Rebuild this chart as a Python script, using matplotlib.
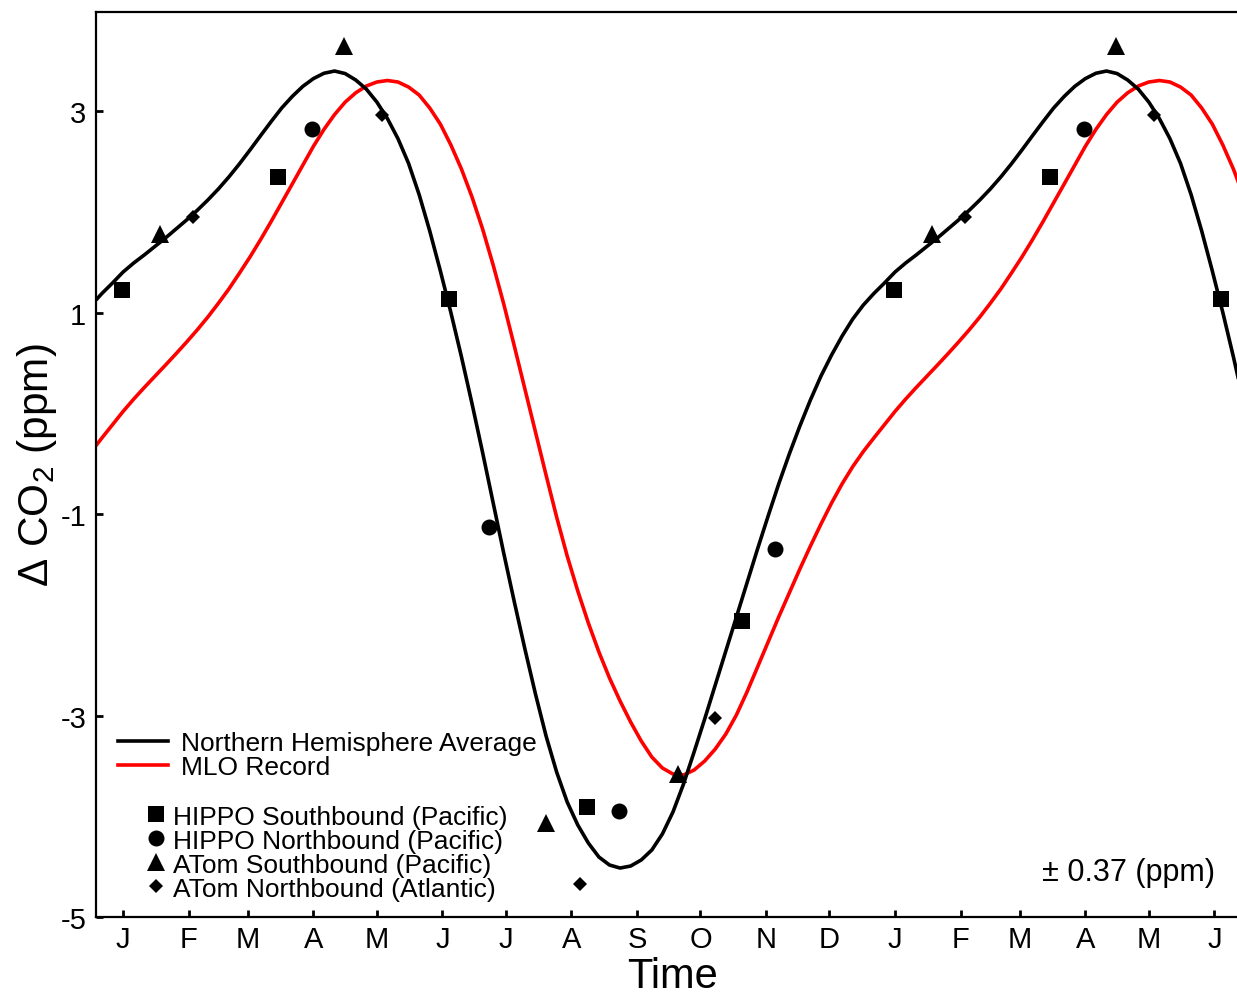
import matplotlib
matplotlib.use("Agg")
import matplotlib.pyplot as plt
from matplotlib.lines import Line2D
import numpy as np

plt.rcParams['font.family'] = ['Liberation Sans', 'DejaVu Sans']
plt.rcParams['mathtext.fontset'] = 'custom'
plt.rcParams['mathtext.rm'] = 'Liberation Sans'
plt.rcParams['mathtext.it'] = 'Liberation Sans:italic'
plt.rcParams['mathtext.bf'] = 'Liberation Sans:bold'

# ---------------- data (one seasonal cycle, day of year) ----------------
period = 365
cycle_day = list(range(-15, 350, 5))

nh_co2 = [1.074, 1.189, 1.293, 1.402, 1.491, 1.571, 1.655, 1.739, 1.829, 1.918,
          2.013, 2.115, 2.225, 2.345, 2.475, 2.613, 2.755, 2.895, 3.030, 3.145,
          3.245, 3.322, 3.375, 3.397, 3.372, 3.308, 3.218, 3.089, 2.925, 2.725,
          2.480, 2.170, 1.810, 1.415, 1.000, 0.560, 0.095, -0.390, -0.890, -1.390,
          -1.873, -2.340, -2.787, -3.203, -3.561, -3.859, -4.087, -4.266, -4.405, -4.484,
          -4.514, -4.494, -4.434, -4.335, -4.176, -3.958, -3.680, -3.362, -3.035, -2.697,
          -2.360, -2.022, -1.685, -1.347, -1.020, -0.702, -0.405, -0.127, 0.132, 0.370,
          0.578, 0.767, 0.935]

mlo_co2 = [-0.380, -0.245, -0.113, 0.018, 0.140, 0.255, 0.366, 0.477, 0.590, 0.706,
           0.826, 0.953, 1.090, 1.233, 1.390, 1.551, 1.723, 1.903, 2.089, 2.276,
           2.464, 2.650, 2.818, 2.965, 3.088, 3.181, 3.248, 3.288, 3.303, 3.288,
           3.238, 3.159, 3.030, 2.871, 2.663, 2.424, 2.146, 1.829, 1.471, 1.084,
           0.667, 0.241, -0.186, -0.613, -1.030, -1.417, -1.764, -2.082, -2.370, -2.628,
           -2.856, -3.065, -3.253, -3.412, -3.521, -3.581, -3.591, -3.541, -3.452, -3.333,
           -3.184, -2.995, -2.767, -2.519, -2.270, -2.022, -1.784, -1.546, -1.318, -1.099,
           -0.891, -0.700, -0.530]

hippo_s_day = [-0.5, 73.3, 154.1, 219.4, 292.7]
hippo_s_co2 = [1.223, 2.345, 1.134, -3.908, -2.062]
hippo_n_day = [89.4, 173.0, 234.5, 308.3]
hippo_n_co2 = [2.821, -1.129, -3.948, -1.347]
atom_s_day = [17.5, 104.5, 200.0, 262.4]
atom_s_co2 = [1.779, 3.645, -4.067, -3.581]
atom_n_day = [33.1, 122.5, 216.1, 279.9]
atom_n_co2 = [1.948, 2.960, -4.672, -3.025]

month_start = [0, 31, 59, 90, 120, 151, 181, 212, 243, 273, 304, 334,
               365, 396, 424, 455, 485, 516]
month_lbl = ['J', 'F', 'M', 'A', 'M', 'J', 'J', 'A', 'S', 'O', 'N', 'D',
             'J', 'F', 'M', 'A', 'M', 'J']
y_ticks = [3, 1, -1, -3, -5]


def two_years(d, v):
    d = np.asarray(d, dtype=float)
    v = np.asarray(v, dtype=float)
    return np.concatenate([d, d + period]), np.concatenate([v, v])


# ---------------- figure ----------------
W, H = 1237, 995
fig = plt.figure(figsize=(W / 100, H / 100), dpi=100)
ax = fig.add_axes([96 / W, (H - 918) / H, (W - 96) / W, (918 - 13) / H])

x, y = two_years(cycle_day, mlo_co2)
ax.plot(x, y, color='#ff0000', lw=2.6, zorder=2, solid_joinstyle='round')
x, y = two_years(cycle_day, nh_co2)
ax.plot(x, y, color='black', lw=2.6, zorder=3, solid_joinstyle='round')

mk = dict(color='black', ls='none', zorder=4, markeredgewidth=0)
x, y = two_years(hippo_s_day, hippo_s_co2)
ax.plot(x, y, marker='s', ms=11, **mk)
x, y = two_years(hippo_n_day, hippo_n_co2)
ax.plot(x, y, marker='o', ms=11.5, **mk)
x, y = two_years(atom_s_day, atom_s_co2)
ax.plot(x, y, marker='^', ms=13.5, **mk)
x, y = two_years(atom_n_day, atom_n_co2)
ax.plot(x, y, marker='D', ms=6.8, **mk)

ax.set_xlim(-12.8, 526.7)
ax.set_ylim(-5, 3.983)
ax.set_xticks(month_start)
ax.set_xticklabels(month_lbl)
ax.set_yticks(y_ticks)
ax.set_yticklabels([str(t) for t in y_ticks])
ax.tick_params(direction='in', length=5, width=2, labelsize=21)
ax.tick_params(axis='x', pad=6)
ax.tick_params(axis='y', pad=7)

for s in ['left', 'top', 'bottom']:
    ax.spines[s].set_linewidth(1.6)
ax.spines['right'].set_visible(False)

ax.set_xlabel('Time', fontsize=30)
ax.xaxis.set_label_coords(0.505, -0.043)
ax.set_ylabel('Δ CO$_2$ (ppm)', fontsize=30.5)
ax.yaxis.set_label_coords(-0.032, 0.5)

# legends
line_handles = [Line2D([], [], color='black', lw=2.6),
                Line2D([], [], color='#ff0000', lw=2.6)]
leg1 = ax.legend(line_handles, ['Northern Hemisphere Average', 'MLO Record'],
                 loc='upper left', bbox_to_anchor=(0.0193, 0.2055), frameon=False,
                 fontsize=19, handlelength=1.9, handletextpad=0.5,
                 labelspacing=0.0, borderpad=0, borderaxespad=0)
ax.add_artist(leg1)

mk_handles = [Line2D([], [], marker='s', ms=11, **mk),
              Line2D([], [], marker='o', ms=11.5, **mk),
              Line2D([], [], marker='^', ms=13.5, **mk),
              Line2D([], [], marker='D', ms=6.8, **mk)]
ax.legend(mk_handles, ['HIPPO Southbound (Pacific)', 'HIPPO Northbound (Pacific)',
                       'ATom Southbound (Pacific)', 'ATom Northbound (Atlantic)'],
          loc='upper left', bbox_to_anchor=(0.0445, 0.1243), frameon=False,
          fontsize=19, handlelength=0.72, handletextpad=0.27,
          labelspacing=0.0, borderpad=0, borderaxespad=0)

ax.text(0.9807, 0.05, '± 0.37 (ppm)', transform=ax.transAxes,
        ha='right', va='center', fontsize=22)

fig.savefig('out.png', dpi=100)
